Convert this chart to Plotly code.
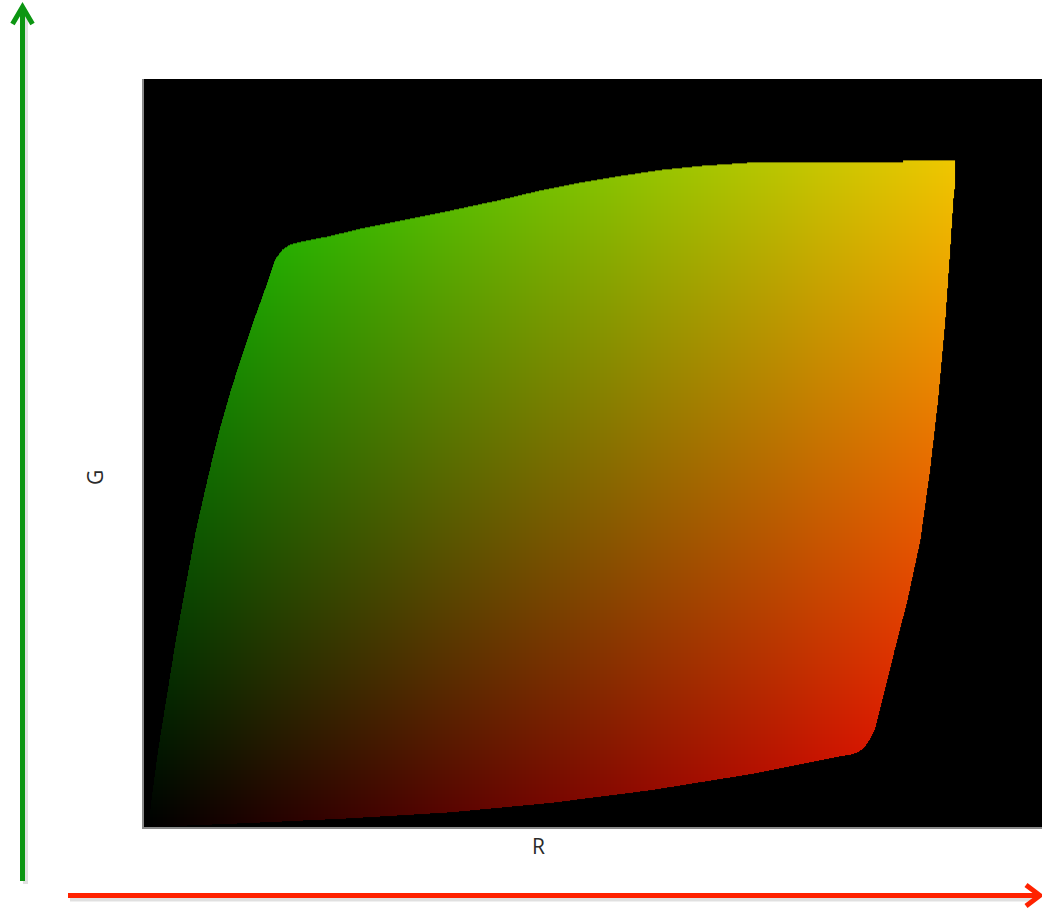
import base64
import struct
import zlib

import numpy as np
import plotly.graph_objects as go

# ---------------- data: gamut outline in (R, G) units ----------------
R_outline = [0.000, 0.062, 0.124, 0.248, 0.373, 0.497, 0.621, 0.745, 0.832, 0.853, 0.873,
             0.882, 0.888, 0.893, 0.901, 0.909, 0.925, 0.941, 0.957, 0.969, 0.979, 0.988,
             0.994, 0.998, 1.000, 1.000, 0.935, 0.935, 0.807, 0.745, 0.683, 0.634, 0.584,
             0.534, 0.484, 0.435, 0.373, 0.311, 0.261, 0.224, 0.186, 0.174, 0.164, 0.155,
             0.147, 0.138, 0.129, 0.120, 0.109, 0.098, 0.087, 0.077, 0.067, 0.057, 0.041,
             0.032, 0.024, 0.016, 0.010, 0.005, 0.001, -0.001]
G_outline = [0.000, 0.003, 0.006, 0.013, 0.022, 0.036, 0.055, 0.079, 0.100, 0.105, 0.109,
             0.114, 0.120, 0.129, 0.148, 0.187, 0.265, 0.340, 0.430, 0.535, 0.640, 0.760,
             0.865, 0.940, 0.963, 1.000, 1.000, 0.997, 0.997, 0.996, 0.991, 0.985, 0.976,
             0.966, 0.954, 0.940, 0.924, 0.909, 0.897, 0.886, 0.877, 0.873, 0.865, 0.850,
             0.820, 0.790, 0.760, 0.727, 0.688, 0.645, 0.598, 0.550, 0.498, 0.445, 0.340,
             0.280, 0.220, 0.160, 0.115, 0.070, 0.033, 0.003]
R_max_channel = 240   # red channel value at R = 1
G_max_channel = 200   # green channel value at G = 1
x_label = "R"
y_label = "G"

# ---------------- layout geometry (pixels) ----------------
W, H = 1042, 910
ML, MR, MT, MB = 144, 0, 79, 83
PX_PER_UNIT_X = 805.0
PX_PER_UNIT_Y = 667.0
X0_PX = 150.0   # pixel of R = 0
Y0_PX = 827.0   # pixel of G = 0

x_range = [(ML - X0_PX) / PX_PER_UNIT_X, (W - MR - X0_PX) / PX_PER_UNIT_X]
y_range = [(Y0_PX - (H - MB)) / PX_PER_UNIT_Y, (Y0_PX - MT) / PX_PER_UNIT_Y]


def pxx(px):
    return (px - ML) / (W - ML - MR)


def pxy(py):
    return ((H - MB) - py) / (H - MT - MB)


# ---------------- build gradient image masked by outline ----------------
u_lo, u_hi = -0.01, 1.01
v_lo, v_hi = 0.0, 1.01
nx = int(round((u_hi - u_lo) * PX_PER_UNIT_X))
ny = int(round((v_hi - v_lo) * PX_PER_UNIT_Y))
uu = u_lo + (np.arange(nx) + 0.5) / nx * (u_hi - u_lo)
vv = v_hi - (np.arange(ny) + 0.5) / ny * (v_hi - v_lo)
U, V = np.meshgrid(uu, vv)

poly_x = np.array(R_outline)
poly_y = np.array(G_outline)
inside = np.zeros(U.shape, dtype=bool)
n = len(poly_x)
for i in range(n):
    x1, y1 = poly_x[i], poly_y[i]
    x2, y2 = poly_x[(i + 1) % n], poly_y[(i + 1) % n]
    if y1 == y2:
        continue
    cond = ((y1 > V) != (y2 > V))
    xint = (x2 - x1) * (V - y1) / (y2 - y1) + x1
    inside ^= cond & (U < xint)

rgba = np.zeros((ny, nx, 4), dtype=np.uint8)
rgba[..., 0] = np.clip(U * R_max_channel, 0, 255).astype(np.uint8)
rgba[..., 1] = np.clip(V * G_max_channel, 0, 255).astype(np.uint8)
rgba[..., 2] = 0
rgba[..., 3] = np.where(inside, 255, 0).astype(np.uint8)


def to_png(arr):
    h, w, _ = arr.shape
    raw = b"".join(b"\x00" + arr[r].tobytes() for r in range(h))

    def chunk(tag, data):
        c = struct.pack(">I", len(data)) + tag + data
        return c + struct.pack(">I", zlib.crc32(tag + data) & 0xFFFFFFFF)

    ihdr = struct.pack(">IIBBBBB", w, h, 8, 6, 0, 0, 0)
    return (b"\x89PNG\r\n\x1a\n" + chunk(b"IHDR", ihdr)
            + chunk(b"IDAT", zlib.compress(raw, 9)) + chunk(b"IEND", b""))


uri = "data:image/png;base64," + base64.b64encode(to_png(rgba)).decode()

# ---------------- figure ----------------
fig = go.Figure()
fig.add_trace(go.Scatter(x=R_outline + [R_outline[0]], y=G_outline + [G_outline[0]],
                         mode="lines", line=dict(color="rgba(0,0,0,0)", width=0),
                         hoverinfo="skip", showlegend=False))

fig.add_layout_image(dict(source=uri, xref="x", yref="y", x=u_lo, y=v_hi,
                          sizex=u_hi - u_lo, sizey=v_hi - v_lo, xanchor="left",
                          yanchor="top", sizing="stretch", layer="above"))

# arrows
green = "rgb(12,150,18)"
red = "rgb(255,34,0)"
shadow = "rgba(0,0,0,0.12)"
shapes = []


def seg(x0, y0, x1, y1, color, w=5):
    shapes.append(dict(type="line", xref="paper", yref="paper",
                       x0=pxx(x0), y0=pxy(y0), x1=pxx(x1), y1=pxy(y1),
                       line=dict(color=color, width=w)))


def chevron(pts, color, w=5):
    d = "M " + " L ".join(f"{pxx(a)},{pxy(b)}" for a, b in pts)
    shapes.append(dict(type="path", xref="paper", yref="paper", path=d,
                       line=dict(color=color, width=w)))


# shadows
seg(25.5, 12, 25.5, 884, shadow, 5)
seg(70, 899, 1036, 899, shadow, 5)
# green vertical arrow
seg(22.5, 9, 22.5, 881, green, 5)
chevron([(12.5, 24), (22.5, 7), (32.5, 24)], green, 5)
# red horizontal arrow
seg(68, 895.5, 1036, 895.5, red, 5)
chevron([(1026, 885), (1040, 895.5), (1026, 906)], red, 5)

fig.update_layout(
    width=W, height=H,
    margin=dict(l=ML, r=MR, t=MT, b=MB),
    paper_bgcolor="white", plot_bgcolor="black",
    showlegend=False,
    shapes=shapes,
    xaxis=dict(range=x_range, showgrid=False, zeroline=False, showticklabels=False,
               ticks="", showline=True, linecolor="#8a8a8a", linewidth=2, fixedrange=True),
    yaxis=dict(range=y_range, showgrid=False, zeroline=False, showticklabels=False,
               ticks="", showline=True, linecolor="#8a8a8a", linewidth=2, fixedrange=True),
    annotations=[
        dict(text=x_label, xref="paper", yref="paper", x=pxx(538.5), y=pxy(845.5),
             showarrow=False, font=dict(family="Open Sans", size=21, color="#2a2a2a"),
             xanchor="center", yanchor="middle"),
        dict(text=y_label, xref="paper", yref="paper", x=pxx(95), y=pxy(478),
             showarrow=False, textangle=-90,
             font=dict(family="Open Sans", size=21, color="#2a2a2a"),
             xanchor="center", yanchor="middle"),
    ],
)

fig.write_html(
    "out.html",
    config={"displayModeBar": False},
    post_script="document.body.style.margin='0';document.body.style.overflow='hidden';",
)
